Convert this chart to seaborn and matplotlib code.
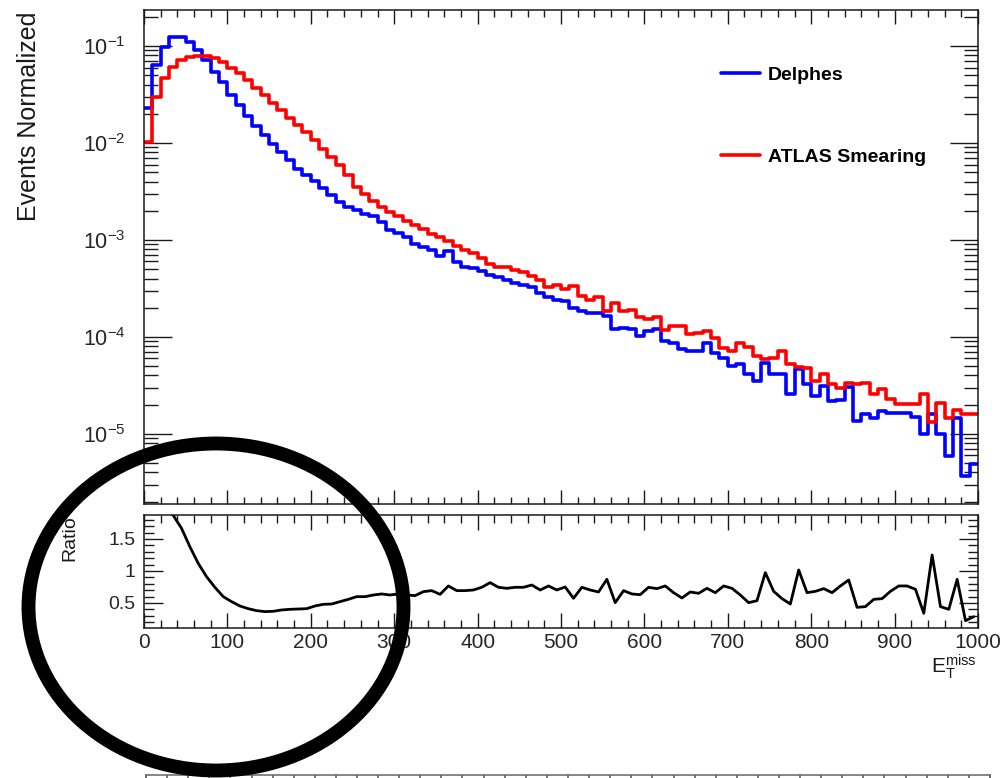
import numpy as np
import pandas as pd
import seaborn as sns
import matplotlib
matplotlib.use("Agg")
import matplotlib.pyplot as plt
from matplotlib.patches import Ellipse
from matplotlib.ticker import MultipleLocator, LogLocator, NullFormatter

# ---------------- data ----------------
bin_edges = list(range(0, 1001, 10))          # E_T^miss bins [GeV]

delphes = [0.0227, 0.0637, 0.0984, 0.125, 0.125, 0.111, 0.0910, 0.0716, 0.0543, 0.0421,
           0.0316, 0.0245, 0.0191, 0.0150, 0.0120, 0.00986, 0.00807, 0.00661, 0.00543, 0.00463,
           0.00402, 0.00346, 0.00288, 0.00245, 0.00218, 0.00204, 0.00186, 0.00175, 0.00152, 0.00127,
           0.00117, 0.00107, 0.000912, 0.000855, 0.000789, 0.000690, 0.000764, 0.000587, 0.000531, 0.000514,
           0.000474, 0.000439, 0.000411, 0.000386, 0.000356, 0.000346, 0.000330, 0.000281, 0.000255, 0.000240,
           0.000232, 0.000198, 0.000186, 0.000175, 0.000175, 0.000165, 0.000120, 0.000125, 0.000120, 0.000103,
           0.000116, 0.000120, 9.02e-5, 8.75e-5, 7.48e-5, 7.24e-5, 7.24e-5, 8.65e-5, 6.76e-5, 6.03e-5,
           5.07e-5, 5.25e-5, 4.12e-5, 3.51e-5, 5.33e-5, 4.12e-5, 4.12e-5, 2.60e-5, 4.63e-5, 3.24e-5,
           2.46e-5, 3.12e-5, 2.18e-5, 2.22e-5, 3.05e-5, 1.36e-5, 1.59e-5, 1.47e-5, 1.72e-5, 1.63e-5,
           1.63e-5, 1.63e-5, 1.49e-5, 9.89e-6, 1.59e-5, 9.89e-6, 5.89e-6, 1.47e-5, 3.66e-6, 4.84e-6]

atlas = [0.0102, 0.0299, 0.0463, 0.0611, 0.0716, 0.0776, 0.0794, 0.0794, 0.0746, 0.0678,
         0.0597, 0.0530, 0.0445, 0.0371, 0.0311, 0.0261, 0.0218, 0.0182, 0.0155, 0.0130,
         0.0107, 0.00875, 0.00716, 0.00587, 0.00463, 0.00351, 0.00295, 0.00255, 0.00221, 0.00194,
         0.00175, 0.00158, 0.00143, 0.00130, 0.00116, 0.00108, 0.000986, 0.000875, 0.000789, 0.000729,
         0.000653, 0.000566, 0.000531, 0.000531, 0.000491, 0.000463, 0.000429, 0.000386, 0.000330, 0.000346,
         0.000312, 0.000337, 0.000266, 0.000240, 0.000256, 0.000186, 0.000222, 0.000186, 0.000189, 0.000161,
         0.000153, 0.000162, 0.000118, 0.000130, 0.000129, 0.000107, 0.000109, 0.000116, 9.86e-5, 7.62e-5,
         7.08e-5, 8.59e-5, 7.94e-5, 6.38e-5, 5.89e-5, 6.03e-5, 7.18e-5, 5.22e-5, 4.91e-5, 4.83e-5,
         3.52e-5, 4.19e-5, 3.30e-5, 3.00e-5, 3.38e-5, 3.24e-5, 3.38e-5, 2.60e-5, 2.88e-5, 2.27e-5,
         2.02e-5, 2.02e-5, 2.02e-5, 2.56e-5, 1.33e-5, 2.10e-5, 1.47e-5, 1.75e-5, 1.61e-5, 1.61e-5]

ratio = [2.3, 2.2, 2.0, 1.87, 1.667, 1.38, 1.12, 0.911, 0.745, 0.599,
         0.521, 0.453, 0.411, 0.38, 0.365, 0.37, 0.391, 0.401, 0.406, 0.411,
         0.453, 0.479, 0.484, 0.521, 0.557, 0.599, 0.599, 0.625, 0.641, 0.625,
         0.641, 0.625, 0.615, 0.677, 0.693, 0.635, 0.766, 0.693, 0.693, 0.703,
         0.745, 0.818, 0.745, 0.729, 0.745, 0.745, 0.781, 0.703, 0.766, 0.703,
         0.75, 0.573, 0.745, 0.703, 0.672, 0.87, 0.505, 0.693, 0.641, 0.63,
         0.745, 0.724, 0.766, 0.661, 0.578, 0.672, 0.651, 0.729, 0.661, 0.766,
         0.729, 0.625, 0.505, 0.536, 0.974, 0.682, 0.568, 0.484, 1.016, 0.661,
         0.682, 0.724, 0.661, 0.766, 0.859, 0.432, 0.443, 0.557, 0.568, 0.682,
         0.766, 0.766, 0.714, 0.339, 1.25, 0.443, 0.401, 0.87, 0.224, 0.286]

series_names = ["Delphes", "ATLAS Smearing"]
series_colors = ["#0000ff", "#ff0000"]
ytick_ratio = [0.5, 1, 1.5]

# ---------------- style ----------------
sns.set_theme(style="ticks")
plt.rcParams.update({
    "font.family": ["Liberation Sans", "DejaVu Sans"],
    "mathtext.fontset": "custom",
    "mathtext.rm": "Liberation Sans",
    "mathtext.it": "Liberation Sans:italic",
    "mathtext.bf": "Liberation Sans:bold",
    "axes.linewidth": 1.1,
    "axes.edgecolor": "#1a1a1a",
})

centers = [0.5 * (a + b) for a, b in zip(bin_edges[:-1], bin_edges[1:])]
df = pd.DataFrame({"met": centers, series_names[0]: delphes, series_names[1]: atlas})

fig = plt.figure(figsize=(10.04, 7.78), dpi=100)
ax = fig.add_axes([144 / 1004, 1 - 504 / 778, 834 / 1004, 494 / 778])
rax = fig.add_axes([144 / 1004, 1 - 628 / 778, 834 / 1004, 113 / 778])

ax.set_yscale("log")
for name, col in zip(series_names, series_colors):
    sns.histplot(data=df, x="met", weights=name, bins=bin_edges, element="step", fill=False,
                 color=col, linewidth=2.6, ax=ax, label=name)

ax.set_xlim(0, 1000)
ax.set_ylim(1.89e-6, 0.2355)
ax.set_xlabel("")
ax.set_ylabel("")
ax.xaxis.set_major_locator(MultipleLocator(100))
ax.xaxis.set_minor_locator(MultipleLocator(20))
ax.yaxis.set_major_locator(LogLocator(base=10, numticks=20))
ax.yaxis.set_minor_locator(LogLocator(base=10, subs=np.arange(2, 10), numticks=20))
ax.yaxis.set_minor_formatter(NullFormatter())
ax.tick_params(axis="both", which="both", direction="in", top=True, right=True,
               labelbottom=False, color="#1a1a1a")
ax.tick_params(axis="x", which="major", length=10, width=1.0)
ax.tick_params(axis="x", which="minor", length=5, width=1.0)
ax.tick_params(axis="y", which="major", length=20, width=1.0, labelsize=15.5, pad=13)
ax.tick_params(axis="y", which="minor", length=10, width=1.0)

leg = ax.legend(loc="upper left", bbox_to_anchor=(721 / 1004, 1 - 66 / 778),
                bbox_transform=fig.transFigure, frameon=False,
                prop={"weight": "bold", "size": 14}, handlelength=2.0,
                handletextpad=0.4, labelspacing=3.32, borderpad=0, borderaxespad=0)
for t in leg.get_texts():
    t.set_color("black")

# ratio panel
sns.lineplot(x=centers, y=ratio, color="black", linewidth=2.0, ax=rax)
rax.set_xlim(0, 1000)
rax.set_ylim(0.109, 1.875)
rax.set_xlabel("")
rax.set_ylabel("")
rax.xaxis.set_major_locator(MultipleLocator(100))
rax.xaxis.set_minor_locator(MultipleLocator(20))
rax.set_yticks(ytick_ratio)
rax.set_yticklabels([f"{v:g}" for v in ytick_ratio])
rax.yaxis.set_minor_locator(MultipleLocator(0.1))
rax.tick_params(axis="both", which="both", direction="in", top=True, right=True, color="#1a1a1a")
rax.tick_params(axis="x", which="major", length=11, width=1.0, labelsize=15, pad=3.5)
rax.tick_params(axis="x", which="minor", length=6, width=1.0)
rax.tick_params(axis="y", which="major", length=14, width=1.0, labelsize=14, pad=6)
rax.tick_params(axis="y", which="minor", length=7, width=1.0)

# texts
fig.text(29 / 1004, 1 - 12 / 778, "Events Normalized", rotation=90, ha="center", va="top",
         fontsize=18, color="#1a1a1a")
fig.text(70 / 1004, 1 - 515 / 778, "Ratio", rotation=90, ha="center", va="top",
         fontsize=14, color="#1a1a1a")
fig.text(977 / 1004, 1 - 652 / 778, r"$\mathrm{E}_{\mathrm{T}}^{\mathrm{miss}}$",
         ha="right", va="top", fontsize=15, color="#1a1a1a")

# cropped next panel at the very bottom
bax = fig.add_axes([146 / 1004, -0.03, 844 / 1004, 0.03 + 3 / 778])
bax.set_xlim(0, 40)
bax.set_ylim(0, 1)
bax.xaxis.set_major_locator(MultipleLocator(1))
bax.tick_params(axis="x", which="both", direction="in", top=True, bottom=False,
                labeltop=False, labelbottom=False, length=3, color="#666666")
bax.tick_params(axis="y", left=False, labelleft=False)
for s in bax.spines.values():
    s.set_color("#666666")

# hand-drawn circle annotation
circ = Ellipse((216 / 1004, 1 - 607 / 778), width=375 / 1004, height=327 / 778,
               transform=fig.transFigure, fill=False, edgecolor="black", linewidth=10, zorder=100)
fig.add_artist(circ)

fig.savefig("out.png", dpi=100)
